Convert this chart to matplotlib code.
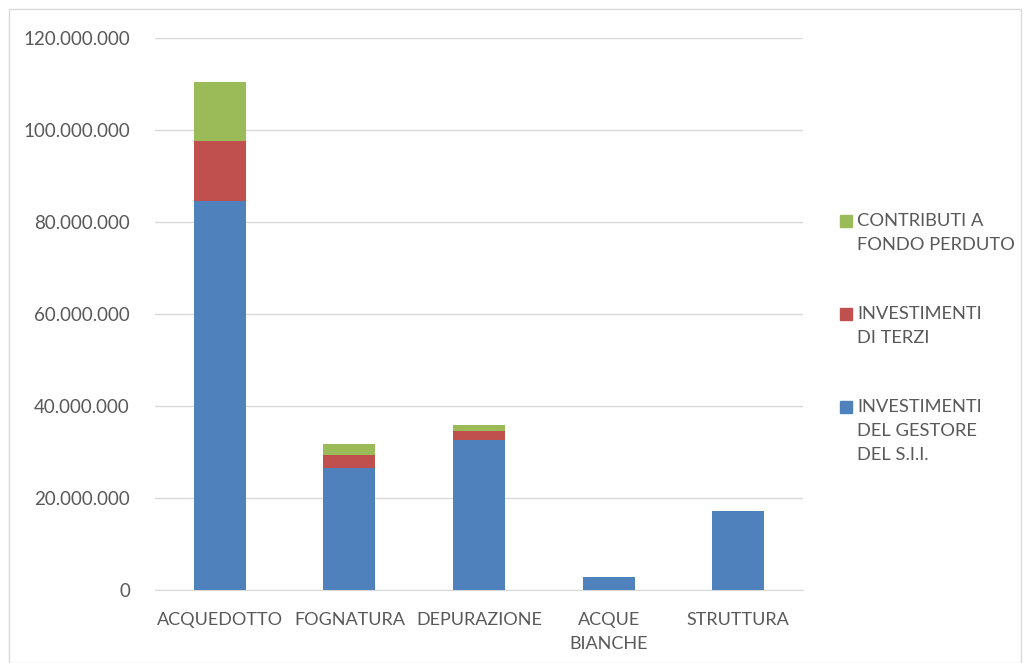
import matplotlib
matplotlib.use("Agg")
import matplotlib.pyplot as plt
from matplotlib.patches import Rectangle
from matplotlib.ticker import FuncFormatter

# ************** DATA ************** #
categories = ["ACQUEDOTTO", "FOGNATURA", "DEPURAZIONE", "ACQUE\nBIANCHE", "STRUTTURA"]
gestore = [84.5e6, 26.6e6, 32.6e6, 2.9e6, 17.1e6]
terzi = [13.2e6, 2.7e6, 2.0e6, 0.0, 0.0]
contributi = [12.7e6, 2.4e6, 1.3e6, 0.0, 0.0]

series_labels = ["INVESTIMENTI\nDEL GESTORE\nDEL S.I.I.", "INVESTIMENTI\nDI TERZI", "CONTRIBUTI A\nFONDO PERDUTO"]
colors = ["#4F81BD", "#C0504D", "#9BBB59"]

plt.rcParams['font.family'] = ['Lato', 'DejaVu Sans']
text_col = "#595959"

fig = plt.figure(figsize=(10.24, 6.63), dpi=100)
ax = fig.add_axes([155/1024, 73/663, 648/1024, 552/663])

x = range(len(categories))
bottom2 = [a + b for a, b in zip(gestore, terzi)]
ax.bar(x, gestore, width=0.4, color=colors[0], zorder=3)
ax.bar(x, terzi, width=0.4, bottom=gestore, color=colors[1], zorder=3)
ax.bar(x, contributi, width=0.4, bottom=bottom2, color=colors[2], zorder=3)

ax.set_xlim(-0.5, len(categories) - 0.5)
ax.set_ylim(0, 120e6)
ax.set_yticks([i * 20e6 for i in range(7)])
ax.yaxis.set_major_formatter(FuncFormatter(lambda v, p: f"{int(v):,}".replace(",", ".")))
ax.set_xticks(list(x))
ax.set_xticklabels(categories, linespacing=1.6)

ax.grid(axis='y', color="#D9D9D9", linewidth=1, zorder=0)
for s in ['top', 'right', 'left']:
    ax.spines[s].set_visible(False)
ax.spines['bottom'].set_color("#D9D9D9")
ax.tick_params(axis='y', length=0, pad=18, labelsize=13.5, labelcolor=text_col)
ax.tick_params(axis='x', length=0, pad=16, labelsize=13, labelcolor=text_col)

# **** manual legend **** #
leg_top = [214, 307, 400]
for i, idx in enumerate([2, 1, 0]):
    y = 1 - leg_top[i] / 663
    fig.add_artist(Rectangle((840/1024, y - 13/663), 12/1024, 12/663,
                             transform=fig.transFigure, color=colors[idx]))
    fig.text(857/1024, y + 1/663, series_labels[idx], va='top', ha='left',
             fontsize=13.2, color=text_col, linespacing=1.62)

# border around the chart
fig.add_artist(Rectangle((9/1024, 0), 1012/1024, 654/663, transform=fig.transFigure,
                         fill=False, edgecolor="#D9D9D9", linewidth=1))

fig.savefig("out.png", dpi=100)
